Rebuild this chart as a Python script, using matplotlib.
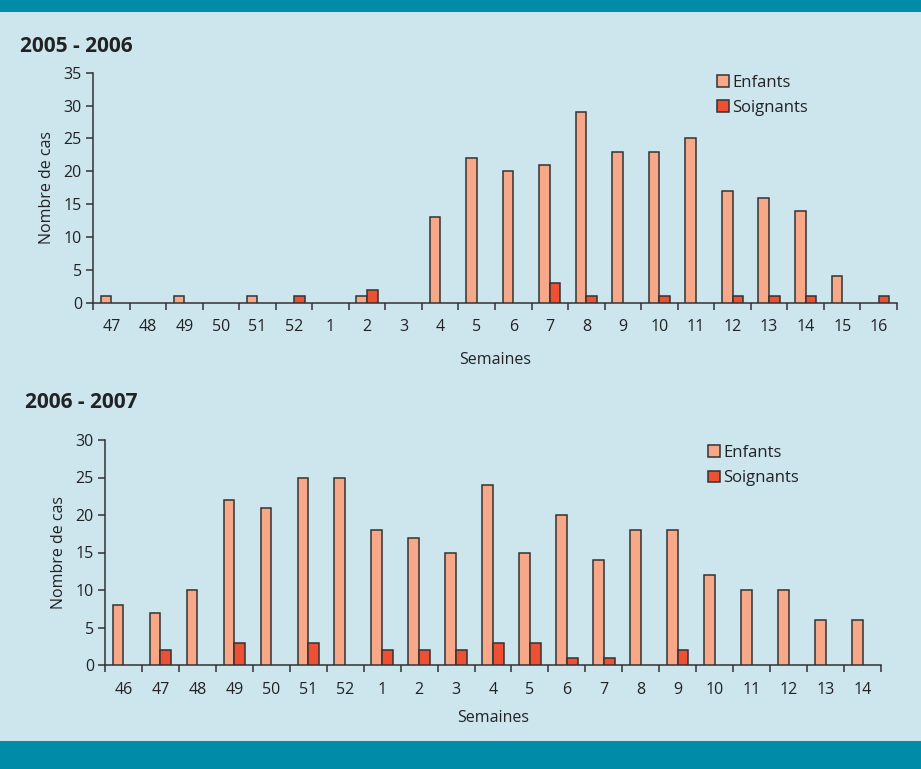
import matplotlib
matplotlib.use("Agg")
import matplotlib.pyplot as plt
from matplotlib.patches import Rectangle, Patch
import numpy as np

plt.rcParams['font.family'] = ['Open Sans', 'DejaVu Sans']

# 2005 - 2006 season
weeks_0506 = ["47", "48", "49", "50", "51", "52", "1", "2", "3", "4", "5", "6",
              "7", "8", "9", "10", "11", "12", "13", "14", "15", "16"]
enfants_0506 = [1, 0, 1, 0, 1, 0, 0, 1, 0, 13, 22, 20, 21, 29, 23, 23, 25, 17, 16, 14, 4, 0]
soignants_0506 = [0, 0, 0, 0, 0, 1, 0, 2, 0, 0, 0, 0, 3, 1, 0, 1, 0, 1, 1, 1, 0, 1]

# 2006 - 2007 season
weeks_0607 = ["46", "47", "48", "49", "50", "51", "52", "1", "2", "3", "4", "5",
              "6", "7", "8", "9", "10", "11", "12", "13", "14"]
enfants_0607 = [8, 7, 10, 22, 21, 25, 25, 18, 17, 15, 24, 15, 20, 14, 18, 18, 12, 10, 10, 6, 6]
soignants_0607 = [0, 2, 0, 3, 0, 3, 0, 2, 2, 2, 3, 3, 1, 1, 0, 2, 0, 0, 0, 0, 0]

BG = "#cde6ee"
TEAL = "#008ca8"
C_ENF = "#f7a889"
C_SOI = "#ee5033"
EDGE = "#333333"
TXT = "#222222"

W, H = 921, 769
fig = plt.figure(figsize=(W / 100, H / 100), dpi=100, facecolor=BG)

# header and footer bands
fig.patches.append(Rectangle((0, 1 - 12 / H), 1, 12 / H, transform=fig.transFigure,
                             facecolor=TEAL, edgecolor="none", zorder=0))
fig.patches.append(Rectangle((0, 0), 1, 28 / H, transform=fig.transFigure,
                             facecolor=TEAL, edgecolor="none", zorder=0))


def px_axes(left, right, y_bottom, y_top):
    return fig.add_axes([left / W, 1 - y_bottom / H, (right - left) / W,
                         (y_bottom - y_top) / H])


def draw_panel(ax, weeks, enf, soi, ymax, legend_xy, xlabelpad):
    n = len(weeks)
    x = np.arange(n)
    bw = 0.29
    b1 = ax.bar(x - bw / 2, enf, width=bw, color=C_ENF, edgecolor=EDGE,
                linewidth=1.1, zorder=3)
    b2 = ax.bar(x + bw / 2, soi, width=bw, color=C_SOI, edgecolor=EDGE,
                linewidth=1.1, zorder=3)
    # empty weeks leave no outline on the axis
    for bars in (b1, b2):
        for p in bars.patches:
            if p.get_height() == 0:
                p.set_visible(False)
    ax.set_facecolor(BG)
    ax.set_xlim(-0.5, n - 0.5)
    ax.set_ylim(0, ymax)
    ax.set_yticks(np.arange(0, ymax + 1, 5))
    ax.set_xticks(x)
    ax.set_xticklabels(weeks)
    ax.set_xticks(np.arange(-0.5, n, 1), minor=True)
    ax.tick_params(axis="x", which="major", length=0, pad=12, labelsize=11.5,
                   colors=TXT)
    ax.tick_params(axis="x", which="minor", length=5, width=1.1, direction="out",
                   color=EDGE)
    ax.tick_params(axis="y", length=5, width=1.1, direction="out", color=EDGE,
                   labelsize=11.5, labelcolor=TXT, pad=3)
    for s in ("top", "right"):
        ax.spines[s].set_visible(False)
    for s in ("left", "bottom"):
        ax.spines[s].set_color(EDGE)
        ax.spines[s].set_linewidth(1.1)
    ax.set_ylabel("Nombre de cas", fontsize=11.5, color=TXT, labelpad=6)
    ax.set_xlabel("Semaines", fontsize=11.5, color=TXT, labelpad=xlabelpad)
    handles = [Patch(facecolor=C_ENF, edgecolor=EDGE, linewidth=1.1, label="Enfants"),
               Patch(facecolor=C_SOI, edgecolor=EDGE, linewidth=1.1, label="Soignants")]
    leg = ax.legend(handles=handles, loc="upper left", bbox_to_anchor=legend_xy,
                    bbox_transform=fig.transFigure, frameon=False, fontsize=12,
                    handlelength=0.7, handleheight=0.7, handletextpad=0.2,
                    labelspacing=0.55, borderaxespad=0, borderpad=0)
    for t in leg.get_texts():
        t.set_color(TXT)


ax1 = px_axes(93, 897, 302.7, 72.7)
draw_panel(ax1, weeks_0506, enfants_0506, soignants_0506, 35,
           (717 / W, 1 - 75 / H), 12)
fig.text(20 / W, 1 - 47 / H, "2005 - 2006", fontsize=15, fontweight="bold",
         color=TXT, va="center", ha="left")

ax2 = px_axes(105, 881, 665, 440)
draw_panel(ax2, weeks_0607, enfants_0607, soignants_0607, 30,
           (708 / W, 1 - 445 / H), 9)
fig.text(25 / W, 1 - 402 / H, "2006 - 2007", fontsize=15, fontweight="bold",
         color=TXT, va="center", ha="left")

fig.savefig("out.png", dpi=100, facecolor=BG)
